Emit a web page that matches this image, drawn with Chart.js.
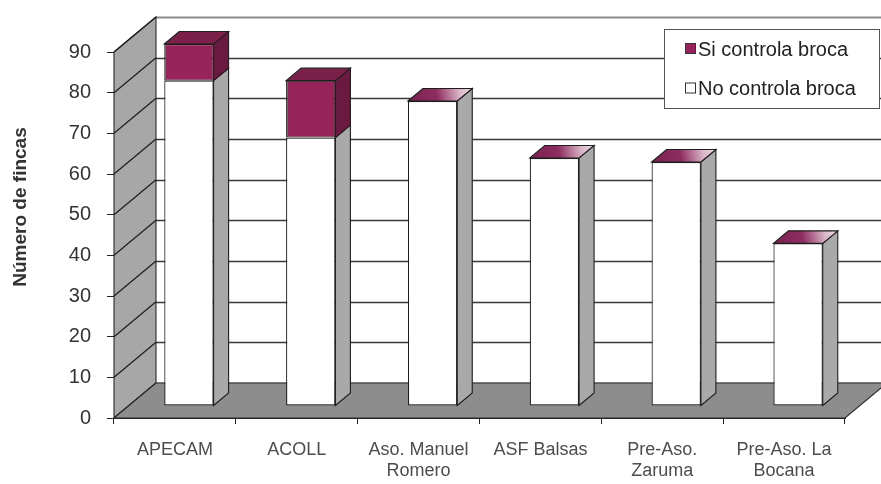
<!DOCTYPE html>
<html>
<head>
<meta charset="utf-8">
<script src="https://cdn.jsdelivr.net/npm/chart.js@4.4.1/dist/chart.umd.min.js"></script>
<style>
  html, body { margin: 0; padding: 0; background: #fff; }
  #wrap { width: 881px; height: 484px; }
</style>
</head>
<body>
<div id="wrap"><canvas id="fincasChart"></canvas></div>
<script>
// values
const categories = ['APECAM', 'ACOLL', ['Aso. Manuel', 'Romero'], 'ASF Balsas', ['Pre-Aso.', 'Zaruma'], ['Pre-Aso. La', 'Bocana']];
const noControla = [80, 66, 75, 61, 60, 40];
const siControla = [9, 14, 0, 0, 0, 0];
const yTicks = [0, 10, 20, 30, 40, 50, 60, 70, 80, 90];
const yTitle = 'Número de fincas';

const FONT = '"Liberation Sans", Arial, sans-serif';
Chart.defaults.font.family = FONT;

// fake 3D: wall depth, bar shift into the box, bar depth
const WALL = { dx: 42, dy: -35 };
const SHIFT = { dx: 14, dy: -12 };
const DEPTH = { dx: 15, dy: -12.5 };

function poly(ctx, pts, fill, stroke) {
  ctx.beginPath();
  ctx.moveTo(pts[0][0], pts[0][1]);
  for (let i = 1; i < pts.length; i++) ctx.lineTo(pts[i][0], pts[i][1]);
  ctx.closePath();
  if (fill) { ctx.fillStyle = fill; ctx.fill(); }
  if (stroke) { ctx.strokeStyle = stroke; ctx.lineWidth = 1.1; ctx.stroke(); }
}

const frame3d = {
  id: 'frame3d',
  beforeDatasetsDraw(chart) {
    const { ctx, chartArea: a, scales: { y } } = chart;
    const y0 = y.getPixelForValue(yTicks[0]);
    const yTop = y.getPixelForValue(yTicks[yTicks.length - 1]);
    const L = a.left, R = a.right;
    ctx.save();
    // back wall
    ctx.fillStyle = '#fff';
    ctx.fillRect(L + WALL.dx, yTop + WALL.dy, R - L, y0 - yTop);
    y.ticks.forEach(t => {
      const last = t.value === yTicks[yTicks.length - 1];
      const py = Math.round(y.getPixelForValue(t.value) + WALL.dy) + 0.5;
      ctx.strokeStyle = last ? '#8a8a8a' : '#383838';
      ctx.lineWidth = last ? 2 : 1.4;
      ctx.beginPath();
      ctx.moveTo(L + WALL.dx, py);
      ctx.lineTo(R + WALL.dx, py);
      ctx.stroke();
    });
    // left side wall
    poly(ctx, [[L, yTop], [L + WALL.dx, yTop + WALL.dy], [L + WALL.dx, y0 + WALL.dy], [L, y0]], '#a7a7a7', '#2a2a2a');
    ctx.strokeStyle = '#1e1e1e';
    ctx.lineWidth = 1.2;
    y.ticks.forEach(t => {
      const py = y.getPixelForValue(t.value);
      ctx.beginPath();
      ctx.moveTo(L, py);
      ctx.lineTo(L + WALL.dx, py + WALL.dy);
      ctx.stroke();
    });
    // floor
    poly(ctx, [[L, y0], [R, y0], [R + WALL.dx, y0 + WALL.dy], [L + WALL.dx, y0 + WALL.dy]], '#8d8d8d', '#2a2a2a');
    ctx.restore();

    ctx.save();
    ctx.translate(SHIFT.dx, SHIFT.dy);
  },
  afterDatasetsDraw(chart) {
    const { ctx } = chart;
    const metas = chart.data.datasets.map((d, i) => chart.getDatasetMeta(i));
    metas.forEach((meta, di) => {
      const ds = chart.data.datasets[di];
      meta.data.forEach(bar => {
        const p = bar.getProps(['x', 'y', 'base', 'width'], true);
        const r = p.x + p.width / 2;
        const top = Math.min(p.y, p.base), bot = Math.max(p.y, p.base);
        if (bot - top > 0.5) {
          poly(ctx, [[r, top], [r + DEPTH.dx, top + DEPTH.dy], [r + DEPTH.dx, bot + DEPTH.dy], [r, bot]], ds.sideColor, '#1e1e1e');
        }
      });
    });
    // top face of each stack, coloured by the top series
    const topMeta = metas[metas.length - 1];
    const topDs = chart.data.datasets[metas.length - 1];
    topMeta.data.forEach((bar, i) => {
      const p = bar.getProps(['x', 'y', 'width'], true);
      const l = p.x - p.width / 2, r = p.x + p.width / 2, t = p.y;
      let fill = topDs.topColor;
      if (topDs.data[i] === 0) {
        const g = ctx.createLinearGradient(l, t, r + DEPTH.dx, t + DEPTH.dy);
        g.addColorStop(0, '#7a2050');
        g.addColorStop(0.45, '#8e2d60');
        g.addColorStop(0.8, '#d9b7c8');
        g.addColorStop(1, '#eedde5');
        fill = g;
      }
      poly(ctx, [[l, t], [r, t], [r + DEPTH.dx, t + DEPTH.dy], [l + DEPTH.dx, t + DEPTH.dy]], fill, '#1e1e1e');
    });
    ctx.restore();

    // legend
    ctx.save();
    ctx.fillStyle = '#fff';
    ctx.fillRect(664, 29, 216, 80);
    ctx.strokeStyle = '#555';
    ctx.lineWidth = 1;
    ctx.strokeRect(664.5, 29.5, 215, 79);
    ctx.font = '20px ' + FONT;
    ctx.textBaseline = 'middle';
    const items = chart.data.datasets.slice().reverse();
    items.forEach((ds, k) => {
      const cy = 49 + k * 39.5;
      ctx.fillStyle = ds.backgroundColor;
      ctx.fillRect(685.5, cy - 5.5, 10, 10);
      ctx.strokeStyle = '#333';
      ctx.strokeRect(685.5, cy - 5.5, 10, 10);
      ctx.fillStyle = '#222';
      ctx.fillText(ds.label, 698, cy + 1);
    });
    // y axis title
    ctx.translate(21, 207);
    ctx.rotate(-Math.PI / 2);
    ctx.font = 'bold 19px ' + FONT;
    ctx.fillStyle = '#333';
    ctx.textAlign = 'center';
    ctx.fillText(yTitle, 0, 0);
    ctx.restore();
  }
};

new Chart(document.getElementById('fincasChart'), {
  type: 'bar',
  data: {
    labels: categories,
    datasets: [
      {
        label: 'No controla broca',
        data: noControla,
        backgroundColor: '#ffffff',
        sideColor: '#a9a9a9',
        topColor: '#e8e8e8',
        borderColor: '#1e1e1e',
        borderWidth: 1.2,
        borderSkipped: false,
        clip: false
      },
      {
        label: 'Si controla broca',
        data: siControla,
        backgroundColor: '#962359',
        sideColor: '#6a1a41',
        topColor: '#7b2149',
        borderColor: '#1e1e1e',
        borderWidth: 1.2,
        borderSkipped: false,
        clip: false
      }
    ]
  },
  options: {
    responsive: true,
    maintainAspectRatio: false,
    animation: false,
    layout: { padding: { left: 0, top: 52, right: 36, bottom: 0 } },
    datasets: { bar: { categoryPercentage: 1, barPercentage: 0.405 } },
    scales: {
      x: {
        stacked: true,
        afterFit: s => { s.height = 66; },
        grid: { drawOnChartArea: false, drawTicks: true, tickLength: 6, color: '#222', offset: true },
        border: { display: true, color: '#222' },
        ticks: {
          color: '#4d4d4d',
          font: { size: 18, lineHeight: 1.2 },
          padding: 15,
          maxRotation: 0,
          autoSkip: false
        }
      },
      y: {
        stacked: true,
        min: yTicks[0],
        max: yTicks[yTicks.length - 1],
        afterFit: s => { s.width = 114; },
        afterBuildTicks: s => { s.ticks = yTicks.map(v => ({ value: v })); },
        grid: { drawOnChartArea: false, drawTicks: true, tickLength: 7, color: '#222' },
        border: { display: true, color: '#222' },
        ticks: { color: '#333', font: { size: 20 }, padding: 16 }
      }
    },
    plugins: {
      legend: { display: false },
      tooltip: { enabled: false },
      title: { display: false }
    }
  },
  plugins: [frame3d]
});
</script>
</body>
</html>
